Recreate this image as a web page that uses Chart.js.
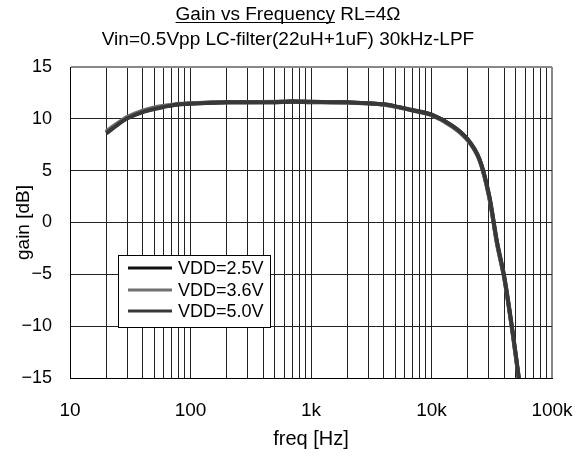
<!DOCTYPE html>
<html>
<head>
<meta charset="utf-8">
<script src="https://cdn.jsdelivr.net/npm/chart.js@4.4.0/dist/chart.umd.min.js"></script>
<style>
  html, body { margin: 0; padding: 0; background: #fff; }
</style>
</head>
<body>
<canvas id="gainChart" width="576" height="461"></canvas>
<script>
// data
const freq = [20, 25, 30, 40, 50, 60, 70, 80, 100, 150, 200, 300, 500, 700, 1000, 1500, 2000, 3000, 4000, 5000, 7000, 10000, 15000, 20000, 25000, 30000, 35000, 40000, 45000, 50000, 55000];
const gain25 = [8.7, 9.5, 10.1, 10.7, 11.0, 11.2, 11.3, 11.4, 11.5, 11.55, 11.6, 11.6, 11.6, 11.65, 11.6, 11.6, 11.6, 11.5, 11.4, 11.2, 10.85, 10.4, 9.3, 8.0, 6.1, 2.6, -2.0, -5.2, -9.0, -12.8, -16.5];
const gain36 = [8.8, 9.6, 10.2, 10.8, 11.1, 11.25, 11.35, 11.45, 11.5, 11.6, 11.6, 11.6, 11.65, 11.7, 11.65, 11.6, 11.55, 11.5, 11.35, 11.15, 10.8, 10.35, 9.2, 7.9, 6.0, 2.5, -2.1, -5.3, -9.1, -12.9, -16.6];
const gain50 = [8.6, 9.45, 10.05, 10.65, 10.95, 11.15, 11.3, 11.4, 11.45, 11.55, 11.6, 11.6, 11.6, 11.7, 11.65, 11.6, 11.6, 11.5, 11.4, 11.2, 10.8, 10.4, 9.3, 8.0, 6.1, 2.7, -1.9, -5.1, -8.9, -12.7, -16.4];
const seriesNames = ["VDD=2.5V", "VDD=3.6V", "VDD=5.0V"];
const seriesColors = ["#111111", "#707070", "#383838"];
const yTicks = [-15, -10, -5, 0, 5, 10, 15];
const xDecades = [10, 100, 1000, 10000, 100000];
const xTickLabels = ["10", "100", "1k", "10k", "100k"];
const titleMain = "Gain vs Frequency";
const titleRest = " RL=4\u03A9";
const titleSub = "Vin=0.5Vpp LC-filter(22uH+1uF) 30kHz-LPF";

const FONT = "'Liberation Sans', Arial, sans-serif";

//Title (first part underlined)//
const titlePlugin = {
  id: "twoLineTitle",
  afterDraw(chart) {
    const ctx = chart.ctx;
    const cx = chart.width / 2;
    ctx.save();
    ctx.fillStyle = "#000";
    ctx.font = "19px " + FONT;
    ctx.textBaseline = "alphabetic";
    ctx.textAlign = "left";
    const w1 = ctx.measureText(titleMain).width;
    const w2 = ctx.measureText(titleRest).width;
    const x0 = cx - (w1 + w2) / 2;
    ctx.fillText(titleMain, x0, 20);
    ctx.fillText(titleRest, x0 + w1, 20);
    ctx.fillRect(x0, 22, w1, 1);
    ctx.textAlign = "center";
    ctx.fillText(titleSub, cx, 45);
    ctx.restore();
  }
};

//Legend box inside plot//
const legendPlugin = {
  id: "boxLegend",
  afterDraw(chart) {
    const ctx = chart.ctx;
    const bx = 118, by = 255, bw = 152, bh = 72;
    ctx.save();
    ctx.fillStyle = "#fff";
    ctx.fillRect(bx, by, bw, bh);
    ctx.strokeStyle = "#000";
    ctx.lineWidth = 1;
    ctx.strokeRect(bx + 0.5, by + 0.5, bw, bh);
    ctx.font = "18px " + FONT;
    ctx.textBaseline = "middle";
    ctx.textAlign = "left";
    const rows = [268, 290, 311];
    seriesNames.forEach((name, i) => {
      ctx.strokeStyle = seriesColors[i];
      ctx.lineWidth = 3;
      ctx.beginPath();
      ctx.moveTo(128, rows[i]);
      ctx.lineTo(172, rows[i]);
      ctx.stroke();
      ctx.fillStyle = "#000";
      ctx.fillText(name, 178, rows[i] + 1);
    });
    ctx.restore();
  }
};

const data = {
  datasets: [
    { label: seriesNames[0], data: freq.map((f, i) => ({ x: f, y: gain25[i] })), borderColor: seriesColors[0], order: 2 },
    { label: seriesNames[1], data: freq.map((f, i) => ({ x: f, y: gain36[i] })), borderColor: seriesColors[1], order: 1 },
    { label: seriesNames[2], data: freq.map((f, i) => ({ x: f, y: gain50[i] })), borderColor: seriesColors[2], order: 0 },
  ],
};

const config = {
  type: "line",
  data: data,
  options: {
    responsive: false,
    animation: false,
    devicePixelRatio: 1,
    layout: { padding: { top: 67, right: 24, left: 0, bottom: 0 } },
    elements: {
      line: { borderWidth: 4, tension: 0.3, fill: false },
      point: { radius: 0 },
    },
    plugins: {
      legend: { display: false },
      title: { display: false },
      tooltip: { enabled: false },
    },
    scales: {
      x: {
        type: "logarithmic",
        min: 10,
        max: 100000,
        afterBuildTicks: (scale) => {
          const t = [];
          for (let d = 0; d < xDecades.length - 1; d++) {
            for (let m = 1; m <= 9; m++) t.push({ value: xDecades[d] * m });
          }
          t.push({ value: xDecades[xDecades.length - 1] });
          scale.ticks = t;
        },
        afterFit: (scale) => {
          scale.height = 83;
          scale.paddingLeft = 0;
          scale.paddingRight = 0;
        },
        ticks: {
          autoSkip: false,
          maxRotation: 0,
          padding: 21,
          color: "#000",
          font: { family: FONT, size: 19 },
          callback: (v) => {
            const i = xDecades.indexOf(v);
            return i >= 0 ? xTickLabels[i] : "";
          },
        },
        grid: {
          drawTicks: false,
          color: (c) => (c.tick && c.tick.value === 100000 ? "#888" : "#222"),
          lineWidth: (c) => (c.tick && c.tick.value === 100000 ? 2 : 1),
        },
        border: { color: "#000", width: 1 },
        title: {
          display: true,
          text: "freq [Hz]",
          color: "#000",
          font: { family: FONT, size: 20 },
          padding: { top: 0, bottom: 10 },
        },
      },
      y: {
        min: -15,
        max: 15,
        afterBuildTicks: (scale) => {
          scale.ticks = yTicks.map((v) => ({ value: v }));
        },
        afterFit: (scale) => { scale.width = 70; },
        ticks: {
          padding: 18,
          color: "#000",
          font: { family: FONT, size: 18 },
          callback: (v) => (v < 0 ? "\u2212" + Math.abs(v) : String(v)),
        },
        grid: {
          drawTicks: false,
          color: (c) => (c.tick && c.tick.value === 15 ? "#888" : "#222"),
          lineWidth: (c) => (c.tick && c.tick.value === 15 ? 2 : 1),
        },
        border: { color: "#000", width: 1 },
        title: {
          display: true,
          text: "gain [dB]",
          color: "#000",
          font: { family: FONT, size: 19 },
          padding: { top: 12, bottom: 0 },
        },
      },
    },
  },
  plugins: [titlePlugin, legendPlugin],
};

const gainChart = new Chart(document.getElementById("gainChart").getContext("2d"), config);
</script>
</body>
</html>
